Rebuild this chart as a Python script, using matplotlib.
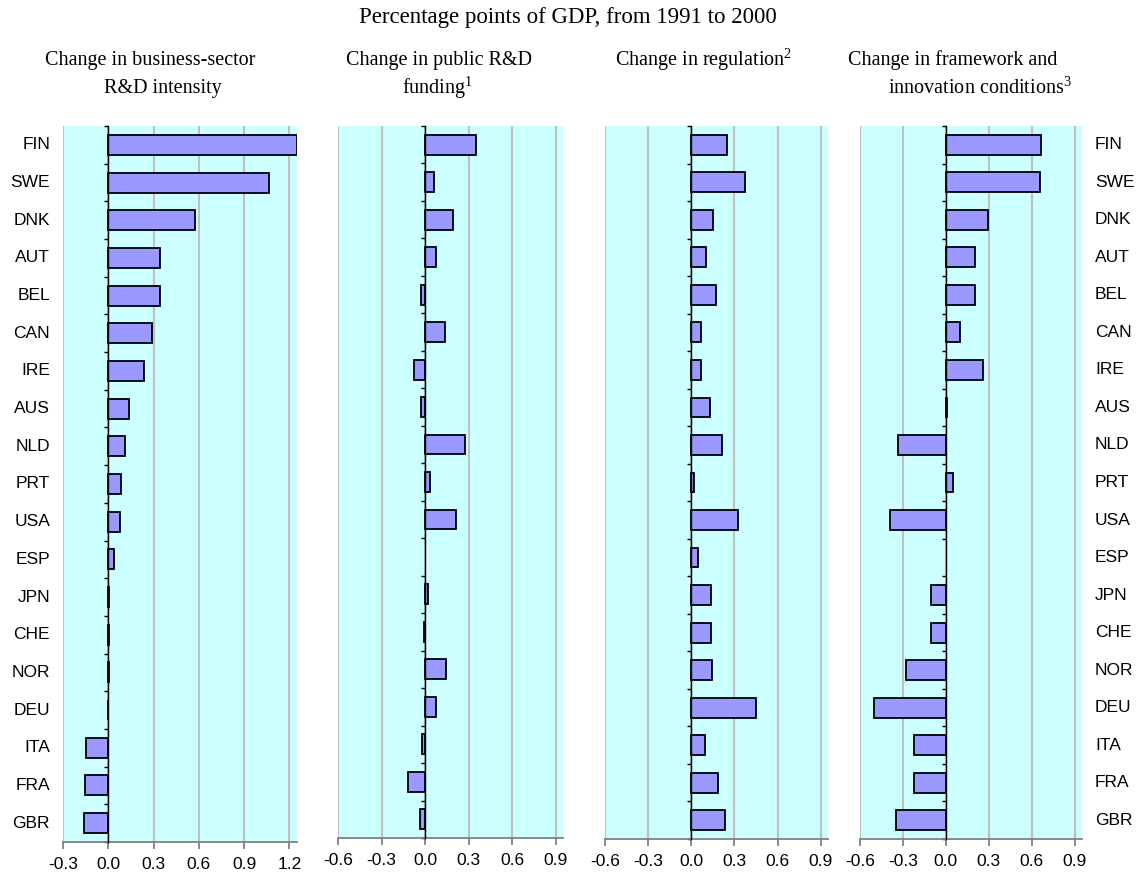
import matplotlib
matplotlib.use("Agg")
import matplotlib.pyplot as plt
import matplotlib.transforms as mtransforms
import numpy as np

plt.rcParams['font.family'] = ['Liberation Sans', 'DejaVu Sans']
plt.rcParams['mathtext.fontset'] = 'custom'
plt.rcParams['mathtext.rm'] = 'Liberation Serif'

countries = ["FIN", "SWE", "DNK", "AUT", "BEL", "CAN", "IRE", "AUS", "NLD", "PRT",
             "USA", "ESP", "JPN", "CHE", "NOR", "DEU", "ITA", "FRA", "GBR"]

business_rd = [1.25, 1.066, 0.573, 0.345, 0.34, 0.29, 0.237, 0.139, 0.108, 0.084,
               0.075, 0.038, 0.005, 0.005, 0.005, -0.003, -0.146, -0.155, -0.164]
public_rd = [0.35, 0.06, 0.19, 0.074, -0.028, 0.14, -0.076, -0.028, 0.276, 0.032,
             0.216, 0.0, 0.018, -0.01, 0.143, 0.078, -0.021, -0.115, -0.037]
regulation = [0.245, 0.37, 0.152, 0.104, 0.171, 0.065, 0.065, 0.13, 0.215, 0.016,
              0.321, 0.046, 0.139, 0.139, 0.143, 0.45, 0.097, 0.183, 0.233]
framework = [0.666, 0.656, 0.296, 0.205, 0.2, 0.098, 0.26, 0.005, -0.335, 0.052,
             -0.388, 0.0, -0.107, -0.107, -0.276, -0.505, -0.223, -0.223, -0.347]

ticks_p1 = [-0.3, 0.0, 0.3, 0.6, 0.9, 1.2]
ticks_other = [-0.6, -0.3, 0.0, 0.3, 0.6, 0.9]

main_title = "Percentage points of GDP, from 1991 to 2000"

W, H = 1139, 877
fig = plt.figure(figsize=(W / 100, H / 100), dpi=100)

def rect(l, r, t, b):
    return [l / W, (H - b) / H, (r - l) / W, (b - t) / H]

panels = [
    (business_rd, rect(63, 297, 126, 842), (-0.3, 1.25), ticks_p1),
    (public_rd, rect(338, 563, 126, 838), (-0.6, 0.95), ticks_other),
    (regulation, rect(605, 828, 126, 839), (-0.6, 0.95), ticks_other),
    (framework, rect(860, 1082, 126, 839), (-0.6, 0.95), ticks_other),
]

n = len(countries)
y = np.arange(n)
axes = []
for vals, pos, xlim, ticks in panels:
    ax = fig.add_axes(pos)
    ax.set_facecolor('#CCFFFF')
    for t in ticks:
        ax.axvline(t, color='#C0C0C0', lw=1.5, zorder=1)
    ec = ['none' if v == 0 else 'black' for v in vals]
    ax.barh(y, vals, height=0.53, color='#9999FF', edgecolor=ec, linewidth=1.3, zorder=3)
    ax.set_xlim(*xlim)
    ax.set_ylim(n - 0.5, -0.5)
    ax.set_xticks(ticks)
    ax.set_xticklabels([f"{t:.1f}" for t in ticks], fontsize=12.5)
    for s in ['top', 'right']:
        ax.spines[s].set_visible(False)
    ax.spines['bottom'].set_color('#808080')
    ax.spines['bottom'].set_linewidth(1.3)
    ax.spines['left'].set_position(('data', 0))
    ax.spines['left'].set_color('black')
    ax.spines['left'].set_linewidth(1.0)
    ax.spines['left'].set_zorder(4)
    ax.set_yticks(np.arange(n + 1) - 0.5)
    ax.set_yticklabels([])
    ax.tick_params(axis='y', direction='out', length=3, width=1, color='black')
    ax.tick_params(axis='x', direction='out', length=5, width=1.3, color='#808080',
                   pad=6, labelcolor='black')
    axes.append(ax)

# Country labels
tr1 = mtransforms.blended_transform_factory(fig.transFigure, axes[0].transData)
tr4 = mtransforms.blended_transform_factory(fig.transFigure, axes[3].transData)
for i, c in enumerate(countries):
    fig.text(50 / W, i, c, transform=tr1, ha='right', va='center', fontsize=12.5)
    fig.text(1095 / W, i, c, transform=tr4, ha='left', va='center', fontsize=12.5)

serif = ['Liberation Serif', 'DejaVu Serif']
fig.text(568 / W, 1 - 18 / H, main_title, ha='center', va='center', fontsize=16.5, family=serif)

titles = [
    ("Change in business-sector", 150, 60),
    ("R&D intensity", 163, 88),
    ("Change in public R&D", 439, 60),
    ("funding$^{1}$", 438, 88),
    ("Change in regulation$^{2}$", 704, 60),
    ("Change in framework and", 953, 60),
    ("innovation conditions$^{3}$", 980, 88),
]
for txt, xc, yc in titles:
    fig.text(xc / W, 1 - yc / H, txt, ha='center', va='center', fontsize=14.5, family=serif)

fig.savefig("out.png", dpi=100)
